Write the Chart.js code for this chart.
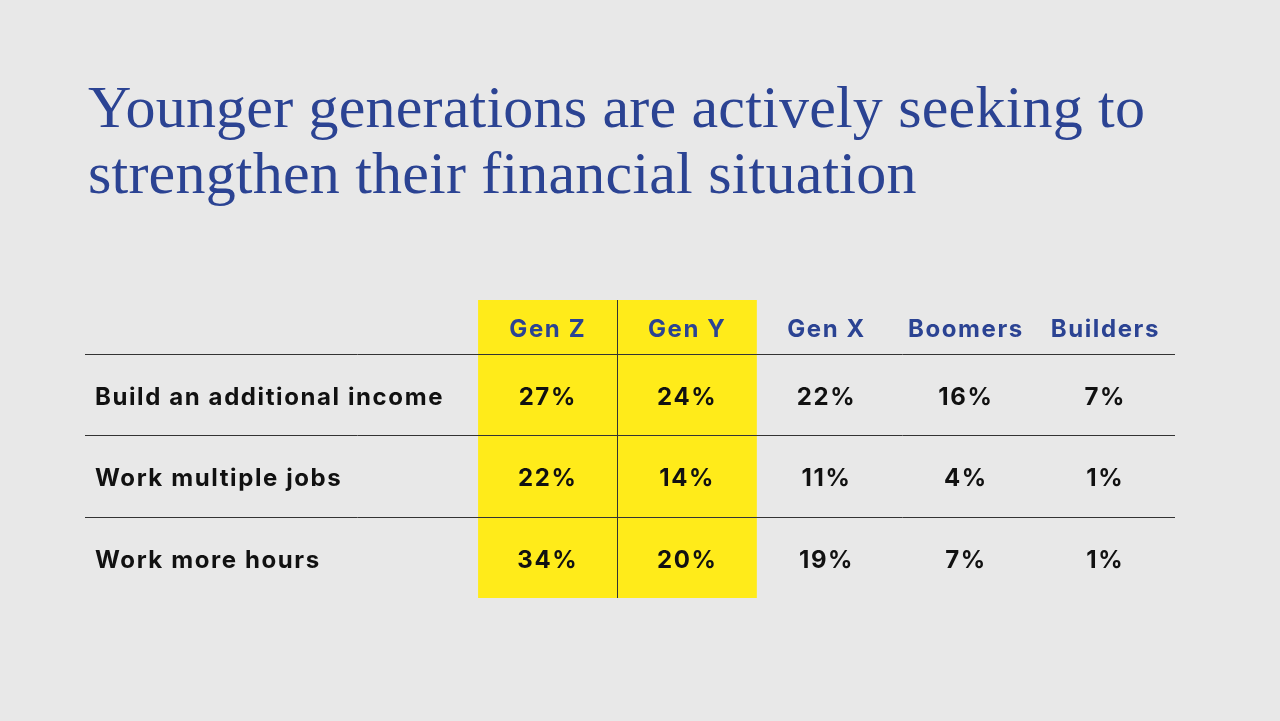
<!DOCTYPE html>
<html>
<head>
<meta charset="utf-8">
<script src="https://cdn.jsdelivr.net/npm/chart.js@4"></script>
<style>
  body { margin: 0; width: 1280px; height: 721px; background: #e8e8e8; position: relative; overflow: hidden; }
  h1 { position: absolute; left: 88px; top: 74px; margin: 0; font: 400 60px/66px "Liberation Serif", serif; color: #2b4393; letter-spacing: 0.2px; }
  #wrap { position: absolute; left: 85px; top: 300px; width: 1090px; height: 298px; }
</style>
</head>
<body>
<h1>Younger generations are actively seeking to<br>strengthen their financial situation</h1>
<div id="wrap"><canvas id="myChart"></canvas></div>
<script>
// Table data
var generations = ["Gen Z", "Gen Y", "Gen X", "Boomers", "Builders"];
var actions = ["Build an additional income", "Work multiple jobs", "Work more hours"];
var buildIncome = [27, 24, 22, 16, 7];
var multipleJobs = [22, 14, 11, 4, 1];
var moreHours = [34, 20, 19, 7, 1];
var highlighted = ["Gen Z", "Gen Y"];

var rows = [buildIncome, multipleJobs, moreHours];
var labelWidth = 2.82;   // label column, in column units
var headerHeight = 0.66; // header row, in row units

// Draws the table cells using the chart's x/y scales
var tablePlugin = {
    id: 'table',
    beforeDatasetsDraw: function(chart) {
        var ctx = chart.ctx, xs = chart.scales.x, ys = chart.scales.y;
        var top = ys.getPixelForValue(rows.length + headerHeight), bottom = ys.getPixelForValue(0);
        ctx.save();
        // yellow highlight columns
        ctx.fillStyle = '#ffeb1a';
        highlighted.forEach(function(g) {
            var i = generations.indexOf(g);
            var x0 = xs.getPixelForValue(i), x1 = xs.getPixelForValue(i + 1);
            ctx.fillRect(x0, top, x1 - x0, bottom - top);
        });
        // vertical line between highlighted columns
        ctx.strokeStyle = '#333';
        ctx.lineWidth = 1;
        ctx.beginPath();
        var vx = Math.round(xs.getPixelForValue(1)) + 0.5;
        ctx.moveTo(vx, top); ctx.lineTo(vx, bottom);
        // horizontal rules
        for (var r = 1; r <= rows.length; r++) {
            var y = Math.round(ys.getPixelForValue(r)) + 0.5;
            ctx.moveTo(xs.getPixelForValue(-labelWidth), y);
            ctx.lineTo(xs.getPixelForValue(generations.length), y);
        }
        ctx.stroke();
        // header
        ctx.textAlign = 'center';
        ctx.textBaseline = 'middle';
        ctx.font = '700 24px Inter, sans-serif';
        ctx.letterSpacing = '1.6px';
        ctx.fillStyle = '#2b4393';
        generations.forEach(function(g, i) {
            ctx.fillText(g, xs.getPixelForValue(i + 0.5), ys.getPixelForValue(rows.length + headerHeight / 2) + 3);
        });
        // body
        ctx.fillStyle = '#111';
        rows.forEach(function(vals, r) {
            var cy = ys.getPixelForValue(rows.length - r - 0.5) + 3;
            ctx.textAlign = 'left';
            ctx.fillText(actions[r], xs.getPixelForValue(-labelWidth) + 10, cy);
            ctx.textAlign = 'center';
            vals.forEach(function(v, i) {
                ctx.fillText(v + '%', xs.getPixelForValue(i + 0.5), cy);
            });
        });
        ctx.restore();
    }
};

window.addEventListener('load', function() {
    var ctx = document.getElementById('myChart').getContext('2d');
    new Chart(ctx, {
        type: 'scatter',
        data: { datasets: [{ data: [] }] },
        options: {
            responsive: true,
            maintainAspectRatio: false,
            animation: false,
            layout: { padding: 0 },
            plugins: { legend: { display: false }, tooltip: { enabled: false } },
            scales: {
                x: { type: 'linear', min: -labelWidth, max: generations.length, display: false },
                y: { type: 'linear', min: 0, max: rows.length + headerHeight, display: false }
            }
        },
        plugins: [tablePlugin]
    });
});
</script>
</body>
</html>
